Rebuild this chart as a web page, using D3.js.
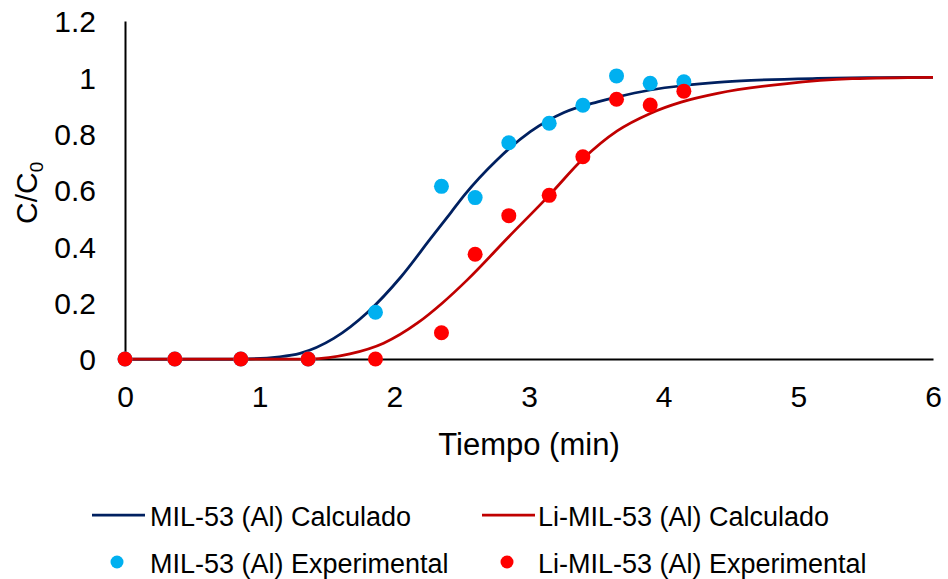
<!DOCTYPE html>
<html>
<head>
<meta charset="utf-8">
<script src="https://cdn.jsdelivr.net/npm/d3@7"></script>
<style>
  html, body { margin: 0; padding: 0; background: #fff; }
  svg text { font-family: "Liberation Sans", Arial, sans-serif; fill: #000; }
</style>
</head>
<body>
<svg id="chart" width="948" height="579"></svg>
<script>
// Breakthrough curves: measured points and fitted model curves
const tiempoExp = [0, 0.37, 0.86, 1.36, 1.86, 2.35, 2.6, 2.85, 3.15, 3.4, 3.65, 3.9, 4.15];
const milExp    = [0, 0, 0, 0, 0.166, 0.613, 0.573, 0.768, 0.837, 0.901, 1.005, 0.979, 0.984];
const liMilExp  = [0, 0, 0, 0, 0, 0.093, 0.372, 0.509, 0.581, 0.718, 0.922, 0.902, 0.951];

const tiempoMilCalc = [0, 0.85, 1.15, 1.3, 1.55, 1.8, 2.05, 2.27, 2.42, 2.52, 2.76, 3.01, 3.26, 3.51, 3.65, 3.9, 4.15, 4.4, 4.65, 5.14, 5.6, 6];
const milCalc       = [0, 0, 0.008, 0.02, 0.073, 0.165, 0.292, 0.428, 0.52, 0.582, 0.706, 0.807, 0.875, 0.913, 0.93, 0.955, 0.971, 0.982, 0.989, 0.996, 0.999, 1.0];

const tiempoLiCalc = [0, 1.37, 1.67, 1.92, 2.17, 2.355, 2.54, 2.85, 3.15, 3.4, 3.655, 3.9, 4.13, 4.4, 4.9, 5.4, 6];
const liMilCalc    = [0, 0, 0.018, 0.056, 0.127, 0.198, 0.28, 0.434, 0.581, 0.71, 0.81, 0.872, 0.912, 0.943, 0.977, 0.995, 1.0];

const xTicks = [0, 1, 2, 3, 4, 5, 6];
const yTicks = [0, 0.2, 0.4, 0.6, 0.8, 1, 1.2];

const seriesNames = [
  "MIL-53 (Al) Calculado",
  "Li-MIL-53 (Al) Calculado",
  "MIL-53 (Al) Experimental",
  "Li-MIL-53 (Al) Experimental"
];

const colors = {
  milLine: "#002060",
  liLine: "#C00000",
  milDot: "#00B0F0",
  liDot: "#FF0000"
};

const svg = d3.select("#chart");

const x = d3.scaleLinear().domain([0, 6]).range([125, 933]);
const y = d3.scaleLinear().domain([0, 1.2]).range([359, 21]);

// Axes (lines only, no tick marks)
const xAxis = d3.axisBottom(x).tickValues(xTicks).tickSize(0).tickPadding(27)
  .tickFormat(d3.format("d"));
const yAxis = d3.axisLeft(y).tickValues(yTicks).tickSize(0).tickPadding(29)
  .tickFormat(d => d === 0 || d === 1 ? String(d) : d3.format(".1f")(d));

const gx = svg.append("g").attr("transform", `translate(0,${y(0)})`).call(xAxis);
const gy = svg.append("g").attr("transform", `translate(${x(0)},0)`).call(yAxis);

[gx, gy].forEach(g => {
  g.select(".domain").attr("stroke", "#000").attr("stroke-width", 2);
  g.selectAll("text").attr("font-size", 30).attr("font-family", "Liberation Sans, Arial, sans-serif").attr("fill", "#000");
});
gy.selectAll("text").attr("dy", "0.36em");

// Axis titles
svg.append("text")
  .attr("x", (x(0) + x(6)) / 2)
  .attr("y", 455)
  .attr("text-anchor", "middle")
  .attr("font-size", 31)
  .text("Tiempo (min)");

const yTitle = svg.append("text")
  .attr("transform", "translate(36.5,224) rotate(-90)")
  .attr("font-size", 30);
yTitle.append("tspan").text("C/C");
yTitle.append("tspan").attr("font-size", 19).attr("dy", 6).text("0");

// Model curves
const line = d3.line()
  .x(d => x(d[0]))
  .y(d => y(d[1]))
  .curve(d3.curveMonotoneX);

const milCurve = tiempoMilCalc.map((t, i) => [t, milCalc[i]]);
const liCurve = tiempoLiCalc.map((t, i) => [t, liMilCalc[i]]);

svg.append("path").datum(milCurve)
  .attr("d", line).attr("fill", "none")
  .attr("stroke", colors.milLine).attr("stroke-width", 2.75);
svg.append("path").datum(liCurve)
  .attr("d", line).attr("fill", "none")
  .attr("stroke", colors.liLine).attr("stroke-width", 2.75);

// Experimental points
svg.append("g").selectAll("circle")
  .data(tiempoExp.map((t, i) => [t, milExp[i]]))
  .join("circle")
  .attr("cx", d => x(d[0])).attr("cy", d => y(d[1]))
  .attr("r", 7.5).attr("fill", colors.milDot);

svg.append("g").selectAll("circle")
  .data(tiempoExp.map((t, i) => [t, liMilExp[i]]))
  .join("circle")
  .attr("cx", d => x(d[0])).attr("cy", d => y(d[1]))
  .attr("r", 7.5).attr("fill", colors.liDot);

// Legend
const legend = svg.append("g");
const legendItems = [
  { name: seriesNames[0], type: "line", color: colors.milLine, lx: 92, tx: 150, cy: 515 },
  { name: seriesNames[1], type: "line", color: colors.liLine, lx: 482, tx: 538, cy: 515 },
  { name: seriesNames[2], type: "dot", color: colors.milDot, lx: 117, tx: 150, cy: 562 },
  { name: seriesNames[3], type: "dot", color: colors.liDot, lx: 507, tx: 538, cy: 562 }
];
legendItems.forEach(it => {
  if (it.type === "line") {
    legend.append("line")
      .attr("x1", it.lx).attr("x2", it.lx + 53)
      .attr("y1", it.cy).attr("y2", it.cy)
      .attr("stroke", it.color).attr("stroke-width", 2.75);
  } else {
    legend.append("circle")
      .attr("cx", it.lx).attr("cy", it.cy).attr("r", 6.5)
      .attr("fill", it.color);
  }
  legend.append("text")
    .attr("x", it.tx).attr("y", it.cy + 10.5)
    .attr("font-size", 27)
    .text(it.name);
});
</script>
</body>
</html>
